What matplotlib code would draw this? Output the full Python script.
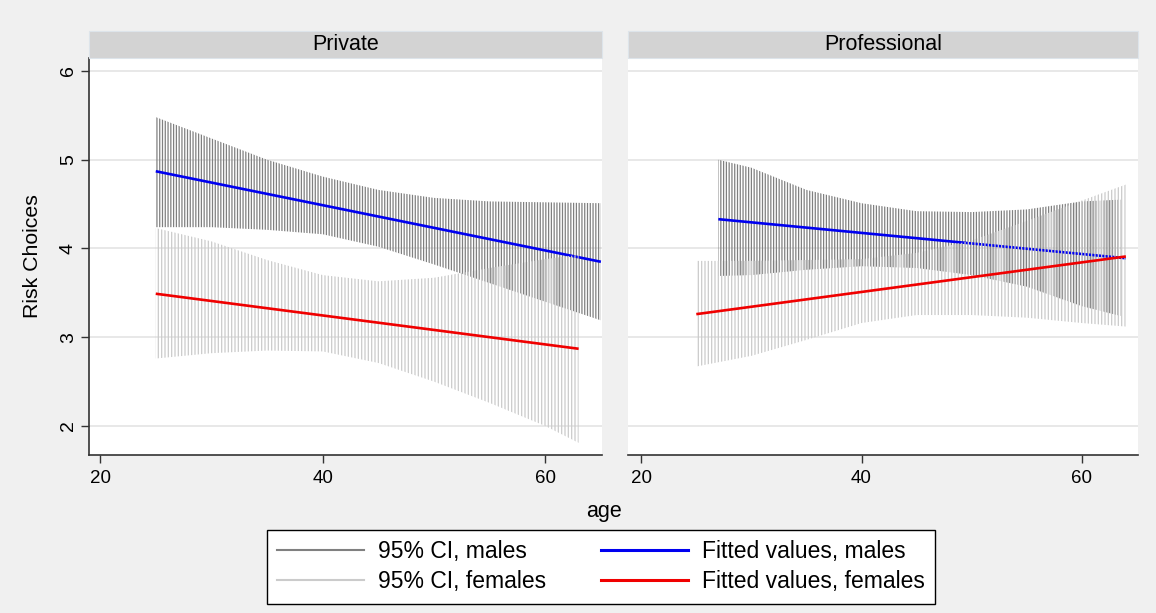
import matplotlib
matplotlib.use("Agg")
import matplotlib.pyplot as plt
from matplotlib.patches import Rectangle
from matplotlib.lines import Line2D

plt.rcParams['font.family'] = ['Liberation Sans', 'DejaVu Sans']
plt.rcParams['hatch.linewidth'] = 0.9

# ---- data ----
# Private panel
priv_m_age = [25, 30, 35, 40, 45, 50, 55, 60, 65]
priv_m_hi = [5.48, 5.24, 5.00, 4.81, 4.66, 4.57, 4.53, 4.52, 4.51]
priv_m_lo = [4.24, 4.24, 4.21, 4.16, 4.02, 3.82, 3.61, 3.40, 3.19]
priv_m_fit_age = [25, 65]
priv_m_fit = [4.87, 3.85]

priv_f_age = [25, 30, 35, 40, 45, 50, 55, 60, 63]
priv_f_hi = [4.23, 4.08, 3.87, 3.70, 3.63, 3.67, 3.78, 3.88, 3.93]
priv_f_lo = [2.76, 2.82, 2.85, 2.84, 2.71, 2.50, 2.26, 2.00, 1.81]
priv_f_fit_age = [25, 63]
priv_f_fit = [3.49, 2.87]

# Professional panel
prof_m_age = [27, 30, 35, 40, 45, 50, 55, 60, 63.5]
prof_m_hi = [5.00, 4.91, 4.66, 4.51, 4.42, 4.41, 4.44, 4.53, 4.55]
prof_m_lo = [3.69, 3.70, 3.76, 3.80, 3.78, 3.70, 3.57, 3.35, 3.24]
prof_m_fit_age = [27, 64]
prof_m_fit = [4.33, 3.89]

prof_f_age = [25, 30, 35, 40, 45, 50, 55, 60, 64]
prof_f_hi = [3.86, 3.86, 3.87, 3.88, 3.95, 4.09, 4.31, 4.54, 4.72]
prof_f_lo = [2.67, 2.79, 2.97, 3.16, 3.25, 3.25, 3.22, 3.16, 3.12]
prof_f_fit_age = [25, 64]
prof_f_fit = [3.26, 3.91]

panel_titles = ['Private', 'Professional']
y_ticks = [2, 3, 4, 5, 6]
x_ticks = [20, 40, 60]
legend_labels = ['95% CI, males', '95% CI, females',
                 'Fitted values, males', 'Fitted values, females']

# ---- styles ----
BG = '#f0f0f0'
STRIP = '#d3d3d3'
GRID = '#e6e6e6'
CI_M = '#808080'
CI_F = '#cbcbcb'
BLUE = '#0000f0'
RED = '#f00000'
AXC = '#333333'

W, H = 1156, 613


def rect(l, r, t, b):
    return [l / W, 1 - b / H, (r - l) / W, (b - t) / H]


fig = plt.figure(figsize=(W / 100, H / 100), dpi=100, facecolor=BG)
ax1 = fig.add_axes(rect(89, 602, 58, 455))
ax2 = fig.add_axes(rect(628, 1138, 58, 455), sharey=ax1)

panels = [
    (ax1, priv_m_age, priv_m_hi, priv_m_lo, priv_m_fit_age, priv_m_fit,
     priv_f_age, priv_f_hi, priv_f_lo, priv_f_fit_age, priv_f_fit),
    (ax2, prof_m_age, prof_m_hi, prof_m_lo, prof_m_fit_age, prof_m_fit,
     prof_f_age, prof_f_hi, prof_f_lo, prof_f_fit_age, prof_f_fit),
]

for (ax, ma, mh, ml, mfa, mf, fa, fh, fl, ffa, ff) in panels:
    ax.set_facecolor('white')
    for yv in y_ticks:
        ax.axhline(yv, color=GRID, lw=1.3, zorder=0)
    # order: male CI, male fit, female CI, female fit
    ax.fill_between(ma, ml, mh, facecolor='none', edgecolor=CI_M,
                    hatch='||||||', linewidth=0, zorder=1)
    ax.plot(mfa, mf, color=BLUE, lw=1.9, zorder=2, solid_capstyle='butt')
    ax.fill_between(fa, fl, fh, facecolor='none', edgecolor=CI_F,
                    hatch='|||||', linewidth=0, zorder=3)
    ax.plot(ffa, ff, color=RED, lw=1.9, zorder=4, solid_capstyle='butt')

    ax.set_xticks(x_ticks)
    ax.tick_params(axis='x', length=6, width=1.0, color=AXC, pad=4.5,
                   labelsize=13.5)
    for s in ['top', 'right']:
        ax.spines[s].set_visible(False)
    ax.spines['bottom'].set_color(AXC)
    ax.spines['bottom'].set_linewidth(1.2)

ax1.set_xlim(19.0, 65.1)
ax2.set_xlim(18.8, 65.1)
ax1.set_ylim(1.673, 6.146)
ax1.set_yticks(y_ticks)
ax1.tick_params(axis='y', length=6, width=1.0, color=AXC, pad=2.7,
                labelsize=14)
for lbl in ax1.get_yticklabels():
    lbl.set_rotation(90)
    lbl.set_va('center')
ax1.spines['left'].set_color(AXC)
ax1.spines['left'].set_linewidth(1.2)
ax2.spines['left'].set_visible(False)
ax2.tick_params(axis='y', left=False, labelleft=False)

# strips with panel titles
for (l, r), title in zip([(89, 602), (628, 1138)], panel_titles):
    x0, y0, w, h = rect(l, r, 31, 58)
    fig.add_artist(Rectangle((x0, y0), w, h, transform=fig.transFigure,
                             facecolor=STRIP, edgecolor='#dde4ea', lw=0.8))
    fig.text(x0 + w / 2, y0 + h / 2, title, ha='center', va='center',
             fontsize=15.5)

fig.text(33 / W, 1 - 256 / H, 'Risk Choices', rotation=90, ha='center',
         va='center', fontsize=15.3)
fig.text(604 / W, 1 - 511 / H, 'age', ha='center', va='center',
         fontsize=15.5)

handles = [Line2D([], [], color=CI_M, lw=1.5),
           Line2D([], [], color=CI_F, lw=1.5),
           Line2D([], [], color=BLUE, lw=2.2),
           Line2D([], [], color=RED, lw=2.2)]
leg = fig.legend(handles, legend_labels, ncol=2, loc='upper left',
                 bbox_to_anchor=(267 / W, 1 - 530 / H), borderaxespad=0,
                 fontsize=16.5, frameon=True, fancybox=False,
                 edgecolor='black', facecolor='white', framealpha=1,
                 handlelength=3.8, handletextpad=0.6, columnspacing=2.4,
                 labelspacing=0.3, borderpad=0.45)
leg.get_frame().set_linewidth(1.0)

fig.savefig('out.png', dpi=100, facecolor=BG)
